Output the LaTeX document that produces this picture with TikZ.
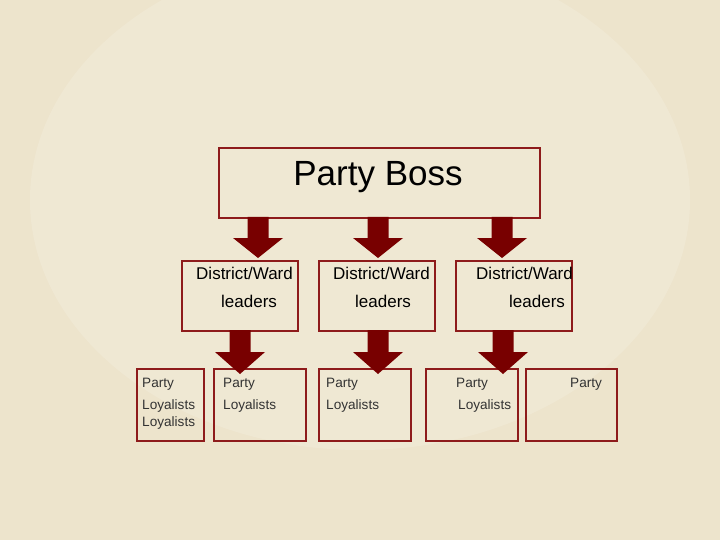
\documentclass[tikz,border=0pt]{standalone}
\usepackage{fontspec}
\setmainfont{Liberation Sans}
\begin{document}
\begin{tikzpicture}[x=1pt,y=-1pt,
  box/.style={draw=boxred,line width=2pt,fill=none,inner sep=0pt,anchor=north west},
  txt/.style={inner sep=0pt,anchor=base west,font=\fontsize{13.6}{13.6}\selectfont,text=black!80},
  mid/.style={inner sep=0pt,anchor=base west,font=\fontsize{17}{17}\selectfont}]
\definecolor{bg}{HTML}{EDE4CC}
\definecolor{boxred}{HTML}{8E1B1B}
\definecolor{arr}{HTML}{780000}
\useasboundingbox (0,0) rectangle (720,540);
\fill[bg] (0,0) rectangle (720,540);
\fill[white,opacity=0.15] (360,200) ellipse (330 and 250);
% boss
\node[box,minimum width=321pt,minimum height=70pt] (boss) at (218,147) {};
\node[inner sep=0pt,font=\fontsize{35}{35}\selectfont] (bosst) at (378,177) {Party Boss};
% middle boxes
\foreach \n/\x in {m1/181,m2/318,m3/455}{
  \node[box,minimum width=116pt,minimum height=70pt] (\n) at (\x,260) {};
}
\begin{scope}
\clip (181,255) rectangle (292,335);
\node[mid] (t1a) at (196,279) {District/Ward};
\end{scope}
\begin{scope}
\clip (318,255) rectangle (429,335);
\node[mid] (t2a) at (333,279) {District/Ward};
\end{scope}
\node[mid] (t3a) at (476,279) {District/Ward};
\node[mid] (t1b) at (221,307) {leaders};
\node[mid] (t2b) at (355,307) {leaders};
\node[mid] (t3b) at (509,307) {leaders};
% bottom boxes
\foreach \n/\x/\w in {b1/136/67,b2/213/92,b3/318/92,b4/425/92,b5/525/91}{
  \node[box,minimum width=\w pt,minimum height=72pt] (\n) at (\x,368) {};
}
\node[txt] (p1) at (142,387) {Party};
\node[txt] (l1) at (142,409) {Loyalists};
\node[txt] (l1b) at (142,426) {Loyalists};
\node[txt] (p2) at (223,387) {Party};
\node[txt] (l2) at (223,409) {Loyalists};
\node[txt] (p3) at (326,387) {Party};
\node[txt] (l3) at (326,409) {Loyalists};
\node[txt] (p4) at (456,387) {Party};
\node[txt] (l4) at (458,409) {Loyalists};
\node[txt] (p5) at (570,387) {Party};
% arrows
\foreach \c/\t/\m/\e in {258/217/238/258, 378/217/238/258, 502/217/238/258,
                         240/330/352/374, 378/330/352/374, 503/330/352/374}{
  \fill[arr] (\c-10.5,\t) -- (\c+10.5,\t) -- (\c+10.5,\m) -- (\c+25,\m) -- (\c,\e)
     -- (\c-25,\m) -- (\c-10.5,\m) -- cycle;
}
\end{tikzpicture}
\end{document}
